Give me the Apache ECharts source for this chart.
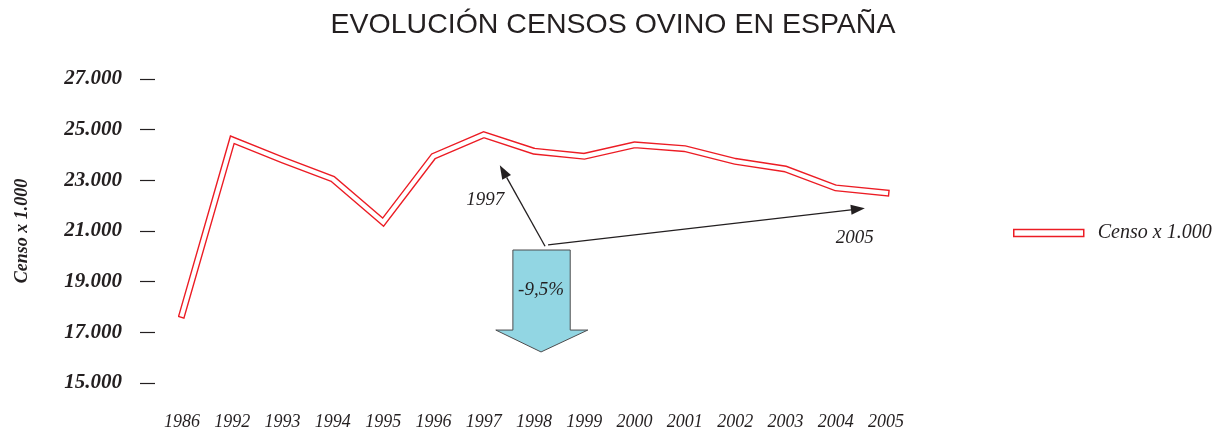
<!DOCTYPE html>
<html>
<head>
<meta charset="utf-8">
<script src="https://cdn.jsdelivr.net/npm/echarts@6/dist/echarts.min.js"></script>
<style>
  html, body { margin: 0; padding: 0; background: #fff; }
  #chart { width: 1226px; height: 433px; }
</style>
</head>
<body>
<div id="chart"></div>
<script>
'use strict';
const years = ['1986', '1992', '1993', '1994', '1995', '1996', '1997', '1998',
    '1999', '2000', '2001', '2002', '2003', '2004', '2005'];
const censo = [17700, 24600, 23800, 23050, 21350, 23950, 24800, 24150,
    23950, 24400, 24250, 23750, 23450, 22700, 22500];
const yMin = 15000;
const yMax = 27000;
const yStep = 2000;

const RED = '#ec1c24';
const serif = '"Liberation Serif", "DejaVu Serif", serif';

const chart = echarts.init(document.getElementById('chart'));

chart.setOption({
    animation: false,
    backgroundColor: '#fff',
    title: {
        text: 'EVOLUCIÓN CENSOS OVINO EN ESPAÑA',
        left: 'center',
        top: 6,
        textStyle: {
            fontFamily: '"Liberation Sans", Arial, sans-serif',
            fontSize: 28.5,
            fontWeight: 'normal',
            color: '#231f20'
        }
    },
    legend: {
        left: 1008,
        top: 218,
        itemWidth: 70,
        itemHeight: 7,
        data: [{
            name: 'Censo x 1.000',
            icon: 'rect',
            itemStyle: { color: '#fff', borderColor: RED, borderWidth: 1.5 }
        }],
        textStyle: {
            fontFamily: serif,
            fontStyle: 'italic',
            fontSize: 20,
            color: '#231f20',
            padding: [0, 0, 0, 9]
        }
    },
    grid: { left: 182, right: 340, top: 79, bottom: 50, containLabel: false },
    xAxis: {
        type: 'category',
        data: years,
        boundaryGap: false,
        axisLine: { show: false },
        axisTick: { show: false },
        axisLabel: {
            margin: 30,
            fontFamily: serif,
            fontStyle: 'italic',
            fontSize: 18,
            color: '#231f20'
        }
    },
    yAxis: {
        type: 'value',
        min: yMin,
        max: yMax,
        interval: yStep,
        offset: 27,
        name: 'Censo x 1.000',
        nameLocation: 'middle',
        nameGap: 124,
        nameRotate: 90,
        nameTextStyle: {
            fontFamily: serif,
            fontStyle: 'italic',
            fontWeight: 'bold',
            fontSize: 18,
            color: '#231f20'
        },
        splitLine: { show: false },
        axisLine: { show: false },
        axisTick: { show: true, length: 15, lineStyle: { color: '#231f20', width: 1.2 } },
        axisLabel: {
            margin: 33,
            formatter: v => (v / 1000).toFixed(3),
            fontFamily: serif,
            fontStyle: 'italic',
            fontWeight: 'bold',
            fontSize: 21,
            color: '#231f20'
        }
    },
    series: [{
        name: 'Censo x 1.000',
        type: 'line',
        data: censo,
        symbol: 'none',
        lineStyle: { color: RED, width: 7, cap: 'square', join: 'miter' },
        itemStyle: { color: RED },
        z: 2
    }, {
        name: 'inner',
        type: 'line',
        data: censo,
        symbol: 'none',
        silent: true,
        lineStyle: { color: '#fff', width: 4.2, cap: 'square', join: 'miter' },
        z: 3
    }]
});

// position helper: fractional category index + value -> pixel
const toPx = (i, v) => {
    const p0 = chart.convertToPixel({ gridIndex: 0 }, [0, v]);
    const pN = chart.convertToPixel({ gridIndex: 0 }, [years.length - 1, v]);
    return [p0[0] + i * (pN[0] - p0[0]) / (years.length - 1), p0[1]];
};

const arrow = (from, to) => {
    const a = toPx(from[0], from[1]);
    const b = toPx(to[0], to[1]);
    const ang = Math.atan2(b[1] - a[1], b[0] - a[0]);
    const len = 14, half = 5;
    const bx = b[0] - len * Math.cos(ang), by = b[1] - len * Math.sin(ang);
    return [{
        type: 'line',
        shape: { x1: a[0], y1: a[1], x2: bx, y2: by },
        style: { stroke: '#231f20', lineWidth: 1.3 }
    }, {
        type: 'polygon',
        shape: {
            points: [b,
                [bx + half * Math.sin(ang), by - half * Math.cos(ang)],
                [bx - half * Math.sin(ang), by + half * Math.cos(ang)]]
        },
        style: { fill: '#231f20' }
    }];
};

const label = (i, v, text) => {
    const p = toPx(i, v);
    return {
        type: 'text',
        x: p[0], y: p[1],
        style: {
            text: text,
            font: 'italic 19px ' + serif,
            fill: '#231f20',
            align: 'center',
            verticalAlign: 'middle'
        }
    };
};

const bigArrow = () => {
    const pts = [
        toPx(6.58, 20250), toPx(7.72, 20250), toPx(7.72, 17090), toPx(8.07, 17090),
        toPx(7.14, 16225), toPx(6.24, 17090), toPx(6.58, 17090)
    ];
    return {
        type: 'polygon',
        shape: { points: pts },
        style: { fill: '#92d6e3', stroke: '#4d4d4f', lineWidth: 1 }
    };
};

chart.setOption({
    graphic: [
        bigArrow(),
        ...arrow([7.22, 20400], [6.32, 23600]),
        ...arrow([7.28, 20450], [13.58, 21900]),
        label(6.03, 22225, '1997'),
        label(13.38, 20725, '2005'),
        label(7.14, 18672, '-9,5%')
    ]
});
</script>
</body>
</html>
